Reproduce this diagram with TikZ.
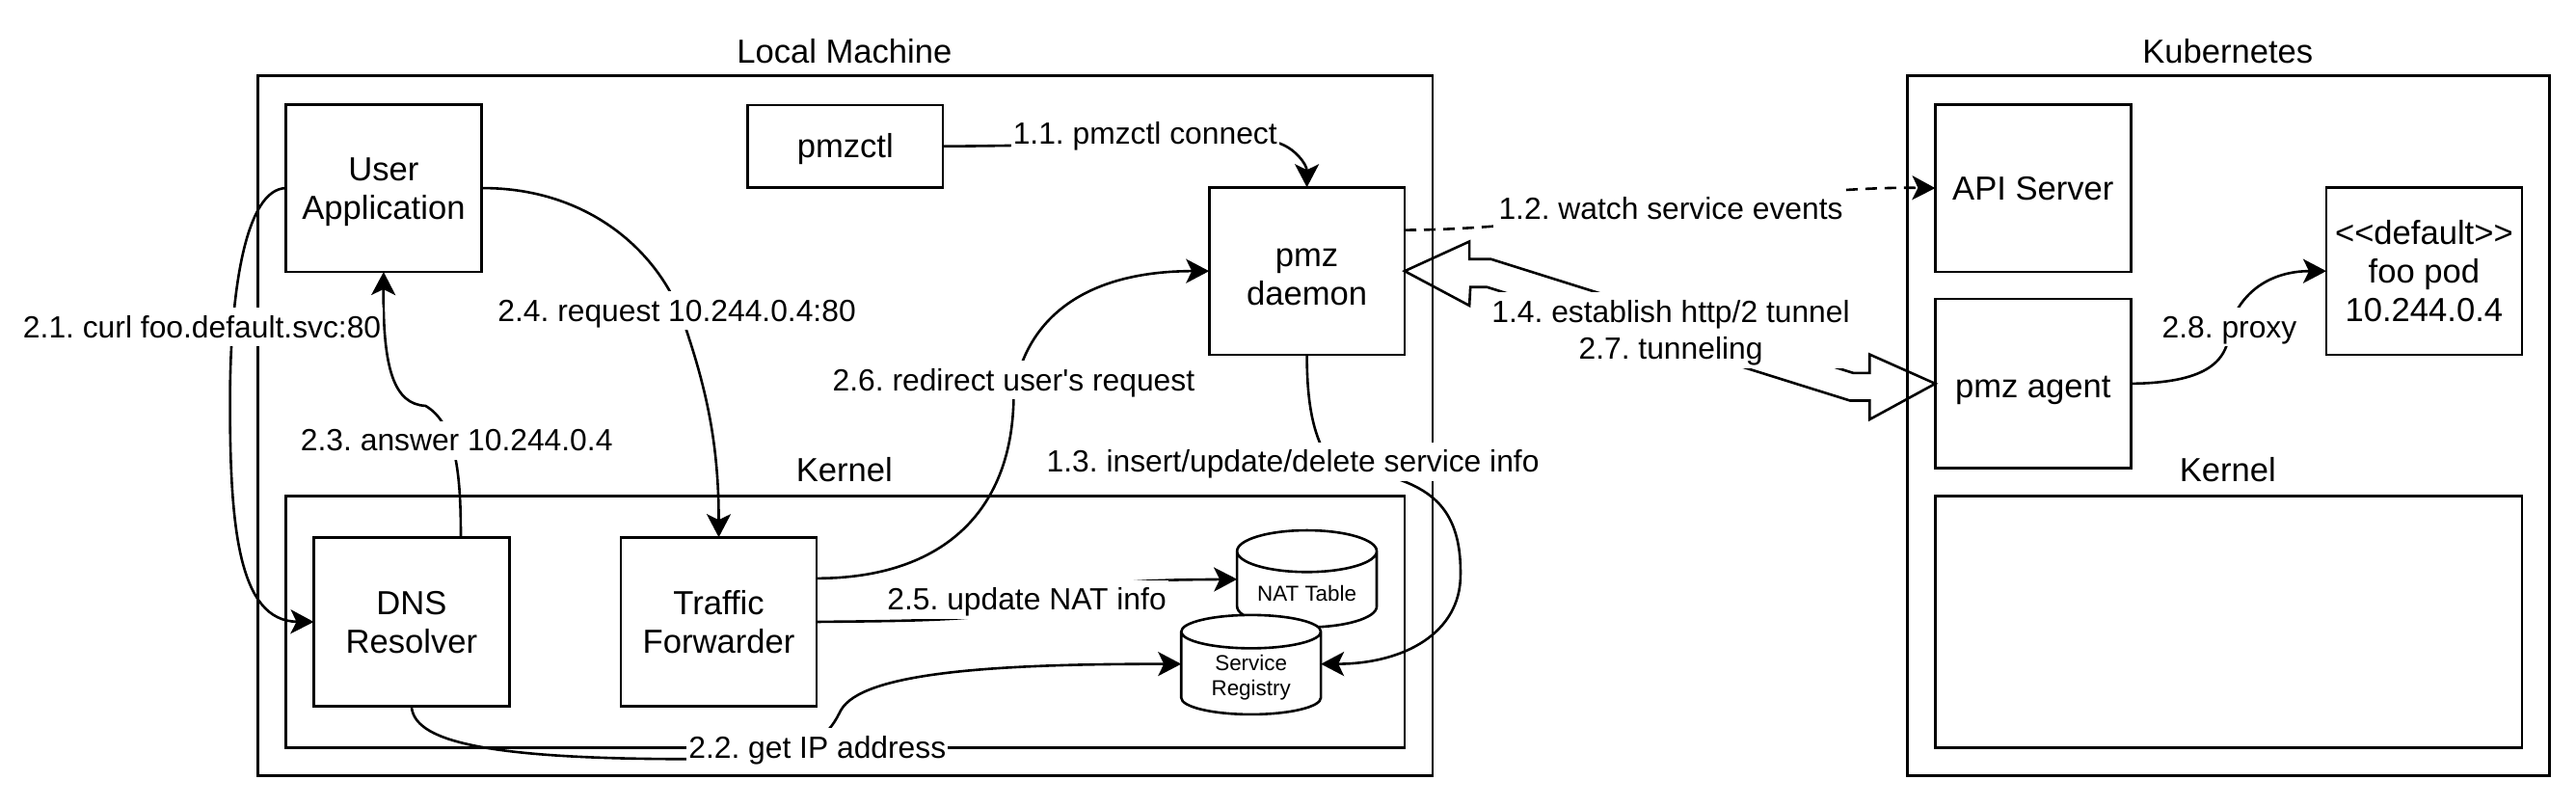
\documentclass[tikz,border=0pt]{standalone}
\usepackage{fontspec}
\usepackage{tikz}
\usetikzlibrary{arrows.meta}
\usetikzlibrary{shapes.geometric}
\newfontfamily\drawfont{Liberation Sans}
\tikzset{
    box/.style 2 args={draw=black, line width=1.3pt, inner sep=0pt, outer sep=0pt, align=center,
        font=\drawfont\fontsize{17.3}{20}\selectfont, minimum width=#1*0.852pt, minimum height=#2*0.852pt},
    oneline/.style={text height=13pt, text depth=1pt},
    twoline/.style={text height=33pt, text depth=1pt},
    threeline/.style={text height=53pt, text depth=1pt},
    title/.style={font=\drawfont\fontsize{17.3}{20}\selectfont, inner sep=0pt},
    lbl/.style={font=\drawfont\frenchspacing\fontsize{15.9}{19.3}\selectfont, fill=white, align=center,
        inner xsep=1pt, inner ysep=2.5pt, text height=13pt, text depth=2pt},
    db/.style={cylinder, shape border rotate=90, aspect=0.42, draw=black, fill=white, line width=1.3pt,
        inner sep=0pt, outer sep=0pt, align=center, font=\drawfont\fontsize{11.2}{13}\selectfont,
        minimum width=85*0.852pt, minimum height=57*0.852pt},
    conn/.style={line width=1.3pt, -{Stealth[length=12pt, width=12.5pt, inset=3pt]}},
    wire/.style={line width=1.3pt}
}
\begin{document}
\begin{tikzpicture}[x=0.852pt, y=-0.852pt]
    \useasboundingbox (0,0) rectangle (1568,490.6);

    \node[box={715}{426}] (LM) at (514.5,259) {};
    \node[box={391}{426}] (K8S) at (1356.5,259) {};
    \node[title] (LMT) at (514,31) {Local Machine};
    \node[title] (K8ST) at (1356,31) {Kubernetes};
    \node[box={681}{153}] (KL) at (514.5,378.5) {};
    \node[box={357}{153}] (KR) at (1356.5,378.5) {};
    \node[title] (KLT) at (514,286) {Kernel};
    \node[title] (KRT) at (1356,286) {Kernel};

    \node[box={119}{102}, twoline] (UA) at (233.5,114.5) {User\\Application};
    \node[box={119}{50}, oneline] (CTL) at (514.5,89) {pmzctl};
    \node[box={119}{102}, twoline, text height=36pt] (DM) at (795.5,165) {pmz\\daemon};
    \node[box={119}{103}, twoline] (DNS) at (250.5,378.5) {DNS\\Resolver};
    \node[box={119}{103}, twoline] (TF) at (437.5,378.5) {Traffic\\Forwarder};
    \node[db, text height=11.4pt, text depth=0pt, minimum height=59*0.852pt] (NAT) at (795.5,359) {NAT Table};
    \node[db, text height=24pt, text depth=1pt] (SR) at (761.5,410) {Service\\Registry};
    \node[box={119}{102}, oneline] (API) at (1237.5,114.5) {API Server};
    \node[box={119}{103}, oneline, text height=16pt] (AG) at (1237.5,233.5) {pmz agent};
    \node[box={119}{102}, threeline] (POD) at (1475.5,165) {<<default>>\\foo pod\\10.244.0.4};

    \draw[wire] (DM.east) -- (894.4,147) -- (894.4,157.7) -- (907.5,157.7) -- (1128,227) -- (1138,227)
        -- (1138,215.7) -- (AG.west) -- (1138,255.3) -- (1138,243.8) -- (1126,243.8)
        -- (905,174.7) -- (895,174.7) -- (894.4,186) -- cycle;

    \draw[conn] (UA.west) .. controls (150,115) and (140,175) .. (140,245)
        .. controls (140,320) and (145,378) .. (DNS.west);
    \draw[conn] (DNS.north -| 280.5,0) .. controls (280.5,290) and (278,258) .. (259,247)
        .. controls (240,246) and (233,225) .. (UA.south);
    \draw[conn] (UA.east) .. controls (350,114) and (395,145) .. (414,190)
        .. controls (430,235) and (437.5,270) .. (TF.north);
    \draw[conn] (DNS.south) .. controls (252,450) and (290,462) .. (420,462)
        .. controls (500,462) and (505,445) .. (512,432)
        .. controls (525,410) and (600,404) .. ([yshift=5pt]SR.west);
    \draw[conn] (TF.east) .. controls (540,378) and (570,378) .. (600,375)
        .. controls (640,353) and (700,353) .. ([yshift=5.5pt]NAT.west);
    \draw[conn] (TF.east |- 0,352) .. controls (575,352) and (617,310) .. (617,240)
        .. controls (625,190) and (665,165) .. (DM.west);
    \draw[conn] (CTL.east) .. controls (630,89) and (750,85) .. (778,87)
        .. controls (788,90) and (795.5,100) .. (DM.north);
    \draw[conn, dash pattern=on 6pt off 4pt] (DM.east |- 0,140) .. controls (950,140) and (1080,113) .. (API.west);
    \draw[conn] (DM.south) .. controls (795.5,240) and (798,260) .. (806,275)
        .. controls (840,295) and (890,285) .. (889,350)
        .. controls (889,385) and (855,404) .. ([yshift=5pt]SR.east);
    \draw[conn] (AG.east) .. controls (1340,233) and (1357,222) .. (1357,199)
        .. controls (1365,175) and (1385,165) .. (POD.west);

    \node[lbl] (L21) at (123,199) {2.1. curl foo.default.svc:80};
    \node[lbl] (L23) at (278,268) {2.3. answer 10.244.0.4};
    \node[lbl] (L24) at (412,189) {2.4. request 10.244.0.4:80};
    \node[lbl] (L26) at (617,231.5) {2.6. redirect user's request};
    \node[lbl] (L25) at (625,365) {2.5. update NAT info};
    \node[lbl] (L22) at (497.5,455) {2.2. get IP address};
    \node[lbl] (L11) at (697,81) {1.1. pmzctl connect};
    \node[lbl] (L13) at (787,281) {1.3. insert/update/delete service info};
    \node[lbl] (L12) at (1017,127) {1.2. watch service events};
    \node[lbl, text height=32.3pt, text depth=2pt] (L14) at (1017,201) {1.4. establish http/2 tunnel\\2.7. tunneling};
    \node[lbl] (L28) at (1357,199) {2.8. proxy};
\end{tikzpicture}
\end{document}
